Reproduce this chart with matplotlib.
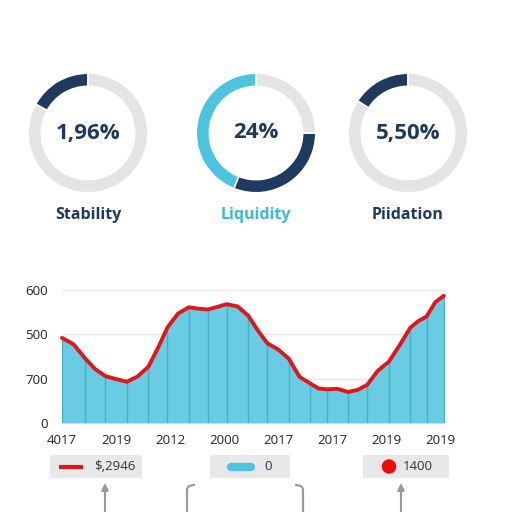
import numpy as np
import matplotlib
matplotlib.use('Agg')
import matplotlib.pyplot as plt
from matplotlib.patches import Rectangle, Circle
from matplotlib.path import Path
from matplotlib.patches import PathPatch

plt.rcParams['font.family'] = ['Open Sans', 'DejaVu Sans']

# donut data
donut_names = ['Stability', 'Liquidity', 'Piidation']
donut_texts = ['1,96%', '24%', '5,50%']
donut_values = [[0.17, 0.83], [0.44, 0.31, 0.25], [0.16, 0.84]]

# area chart data (vertical rules sit on every other point)
x_vals = [0, 0.21, 0.42, 0.61, 0.8, 1.0, 1.2, 1.4, 1.6, 1.78, 1.95, 2.15, 2.35,
          2.52, 2.7, 2.88, 3.05, 3.25, 3.45, 3.62, 3.8, 4.0, 4.2, 4.4, 4.6,
          4.75, 4.9, 5.1, 5.3, 5.48, 5.65, 5.85, 6.05, 6.25, 6.45, 6.6, 6.75,
          6.91, 7.07]
y_vals = [1.92, 1.78, 1.47, 1.22, 1.06, 0.99, 0.93, 1.05, 1.27, 1.70, 2.15, 2.47,
          2.61, 2.58, 2.56, 2.62, 2.68, 2.63, 2.42, 2.10, 1.80, 1.66, 1.45, 1.04,
          0.89, 0.78, 0.76, 0.77, 0.70, 0.75, 0.86, 1.18, 1.38, 1.75, 2.15, 2.30,
          2.40, 2.72, 2.87]
x_labels = ['4017', '2019', '2012', '2000', '2017', '2017', '2019', '2019']
y_labels = ['0', '700', '500', '600']
legend_texts = ['$,2946', '0', '1400']

navy = '#1E3A5F'
light_blue = '#4CC3DF'
gray = '#E4E4E4'
red = '#E0161C'
teal = '#6ACCE2'

W = 512
fig = plt.figure(figsize=(5.12, 5.12), dpi=100)

def px(x0, y0, w, h):
    return [x0 / W, (W - y0 - h) / W, w / W, h / W]

centers = [88, 256, 408]
donut_colors = [[navy, gray], [light_blue, navy, gray], [navy, gray]]
label_colors = [navy, '#3BB9D9', navy]
for i in range(3):
    ax = fig.add_axes(px(centers[i] - 61, 72, 122, 122))
    ax.pie(donut_values[i], colors=donut_colors[i], startangle=90, counterclock=True,
           radius=1, wedgeprops=dict(width=0.22, edgecolor='white', linewidth=1.2))
    ax.set_xlim(-1.02, 1.02)
    ax.set_ylim(-1.02, 1.02)
    ax.set_aspect('equal')
    ax.axis('off')
    ax.text(0, 0, donut_texts[i], ha='center', va='center', fontsize=16,
            fontweight='bold', color=navy)

# main area chart
ax = fig.add_axes(px(62, 290, 383.4, 133))
ax.fill_between(x_vals, y_vals, 0, color=teal, linewidth=0, zorder=2)
ax.vlines(x_vals[::2], 0, y_vals[::2], color='#4AAEC6', linewidth=1, zorder=3)
ax.plot(x_vals, y_vals, color=red, linewidth=2.8, solid_joinstyle='round',
        solid_capstyle='round', zorder=4, clip_on=False)
ax.set_xlim(0, 7.1)
ax.set_ylim(0, 3)
ax.set_yticks(range(4))
ax.set_yticklabels(y_labels)
ax.set_xticks(range(8))
ax.set_xticklabels(x_labels)
ax.tick_params(length=0, labelsize=9.5, labelcolor='#222222')
ax.tick_params(axis='y', pad=10)
ax.tick_params(axis='x', pad=8)
ax.grid(True, axis='y', color='#E6E6E6', linewidth=1, zorder=0)
ax.set_axisbelow(True)
for s in ax.spines.values():
    s.set_visible(False)

# overlay for labels, legend boxes and arrows
ov = fig.add_axes([0, 0, 1, 1])
ov.set_xlim(0, W)
ov.set_ylim(W, 0)
ov.axis('off')
ov.patch.set_alpha(0)

for i in range(3):
    ov.text(centers[i], 215, donut_names[i], ha='center', va='center', fontsize=11.5,
            fontweight='bold', color=label_colors[i])

box_x = [(50, 142), (210, 290), (363, 449)]
for (a, b) in box_x:
    ov.add_patch(Rectangle((a, 455), b - a, 23, facecolor='#E8E8E8', edgecolor='none'))
ov.plot([59, 83], [466.5, 466.5], color=red, linewidth=3, solid_capstyle='butt')
ov.plot([231, 251], [466.5, 466.5], color=light_blue, linewidth=6, solid_capstyle='round')
ov.add_patch(Circle((389, 466.5), 6.5, color='#F00A0A'))
ov.text(94, 467, legend_texts[0], ha='left', va='center', fontsize=9.5, color='#333333')
ov.text(264, 467, legend_texts[1], ha='left', va='center', fontsize=9.5, color='#333333')
ov.text(403, 467, legend_texts[2], ha='left', va='center', fontsize=9.5, color='#333333')

arrow_gray = '#9A9A9A'
for xa in [105, 401]:
    ov.annotate('', xy=(xa, 483), xytext=(xa, 513),
                arrowprops=dict(arrowstyle='-|>', color=arrow_gray, lw=1.5,
                                mutation_scale=10, shrinkA=0, shrinkB=0))
left_br = Path([(187, 513), (187, 490), (187, 485), (195, 485)],
               [Path.MOVETO, Path.LINETO, Path.CURVE3, Path.CURVE3])
right_br = Path([(303, 513), (303, 490), (303, 485), (295, 485)],
                [Path.MOVETO, Path.LINETO, Path.CURVE3, Path.CURVE3])
for p in [left_br, right_br]:
    ov.add_patch(PathPatch(p, facecolor='none', edgecolor=arrow_gray, lw=1.6))

fig.savefig('out.png', dpi=100)
